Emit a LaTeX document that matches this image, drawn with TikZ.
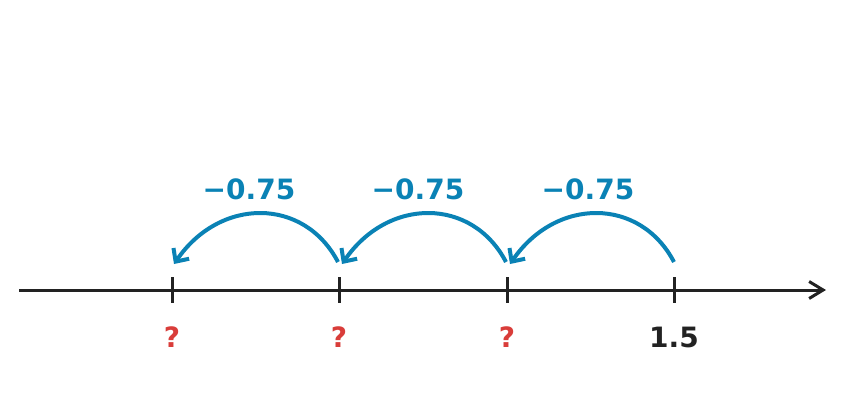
\documentclass[tikz,border=0pt]{standalone}
\usepackage{fontspec}
\setmainfont{DejaVu Sans}
\usetikzlibrary{arrows.meta}
\definecolor{stepblue}{HTML}{0A82B5}
\definecolor{askred}{HTML}{D93D3A}
\definecolor{inkblack}{HTML}{222222}
\begin{document}
\begin{tikzpicture}[x=1pt,y=-1pt]
	\tikzset{every node/.style=
        {font=\bfseries\fontsize{28}{32}\selectfont, inner sep=0pt}
     }
	\tikzset{jump/.style={line width=4pt, draw=stepblue, -{Straight Barb[length=10pt,width=19pt]}}}
	\useasboundingbox (0,0) rectangle (864,416);
	% axis and ticks
	\coordinate (left) at (19,290);
	\coordinate (right) at (826,290);
	\draw[line width=3pt, inkblack, -{Straight Barb[length=14pt,width=17pt]}] (left) -- (right);
	\foreach \n/\x in {t0/172,t1/339,t2/507,t3/674}{
		\draw[line width=3pt, inkblack] (\x,277) -- (\x,303);
		\coordinate (\n) at (\x,290);
	}
	% labels under ticks
	\node (q0) at (172,337) [text=askred] {?};
	\node (q1) at (339,337) [text=askred] {?};
	\node (q2) at (507,337) [text=askred] {?};
	\node (v3) at (674,337) [text=inkblack] {1.5};
	% jumps
	\coordinate (s3) at (674,262);
	\coordinate (e3) at (510,264);
	\coordinate (s2) at (506,262);
	\coordinate (e2) at (342,264);
	\coordinate (s1) at (338,262);
	\coordinate (e1) at (174,264);
	\draw[jump] (s3) .. controls (640,197) and (556,197) .. (e3);
	\draw[jump] (s2) .. controls (472,197) and (388,197) .. (e2);
	\draw[jump] (s1) .. controls (304,197) and (220,197) .. (e1);
	\node (d3) at (588,189) [text=stepblue] {−0.75};
	\node (d2) at (418,189) [text=stepblue] {−0.75};
	\node (d1) at (249,189) [text=stepblue] {−0.75};
\end{tikzpicture}
\end{document}
